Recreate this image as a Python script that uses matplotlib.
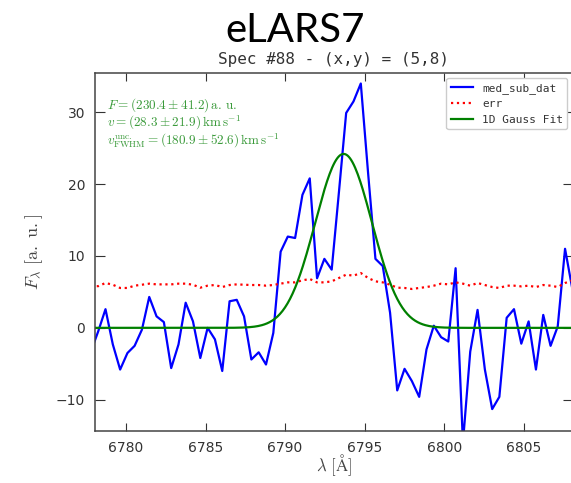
import numpy as np
import matplotlib
matplotlib.use('Agg')
import matplotlib.pyplot as plt

plt.rcParams['mathtext.fontset'] = 'cm'

# wavelength grid of the spectrum [A]
wave = [6777.79, 6778.25, 6778.71, 6779.17, 6779.63, 6780.09, 6780.54, 6781.00,
        6781.46, 6781.92, 6782.38, 6782.84, 6783.30, 6783.75, 6784.21, 6784.67,
        6785.13, 6785.59, 6786.05, 6786.51, 6786.96, 6787.42, 6787.88, 6788.34,
        6788.80, 6789.26, 6789.72, 6790.17, 6790.63, 6791.09, 6791.55, 6792.01,
        6792.47, 6792.93, 6793.39, 6793.84, 6794.30, 6794.76, 6795.22, 6795.68,
        6796.14, 6796.60, 6797.05, 6797.51, 6797.97, 6798.43, 6798.89, 6799.35,
        6799.81, 6800.26, 6800.72, 6801.18, 6801.64, 6802.10, 6802.56, 6803.02,
        6803.47, 6803.93, 6804.39, 6804.85, 6805.31, 6805.77, 6806.23, 6806.69,
        6807.14, 6807.60, 6808.06]

# median subtracted flux
med_sub_dat = [-3.3, -0.5, 2.6, -2.3, -5.8, -3.5, -2.5, -0.25,
               4.3, 1.6, 0.8, -5.6, -2.3, 3.5, 0.9, -4.2,
               0.0, -1.6, -6.0, 3.7, 3.9, 1.6, -4.4, -3.4,
               -5.1, -0.7, 10.6, 12.7, 12.5, 18.5, 20.8, 6.9,
               9.6, 8.1, 19.0, 29.9, 31.5, 34.0, 21.5, 9.6,
               8.6, 2.1, -8.7, -5.7, -7.4, -9.6, -3.0, 0.3,
               -1.3, -1.9, 8.3, -16.0, -3.3, 2.5, -5.8, -11.3,
               -9.6, 1.4, 2.6, -2.2, 0.9, -5.8, 1.8, -2.5,
               0.2, 11.0, 5.4]

# error spectrum
err = [5.8, 5.8, 6.24, 6.0, 5.55, 5.55, 5.87, 6.0,
       6.15, 6.05, 6.05, 6.05, 6.15, 6.15, 6.0, 5.59,
       5.87, 5.96, 5.68, 5.96, 6.05, 6.0, 5.96, 5.96,
       5.87, 5.96, 6.15, 6.33, 6.33, 6.61, 6.80, 6.33,
       6.33, 6.47, 6.94, 7.40, 7.26, 7.63, 6.94, 6.47,
       6.33, 6.0, 5.59, 5.55, 5.41, 5.55, 5.68, 5.87,
       6.15, 6.05, 6.33, 6.15, 5.87, 6.24, 5.96, 5.68,
       5.55, 5.87, 5.87, 5.77, 5.87, 5.68, 5.96, 5.87,
       5.68, 6.24, 6.61]

# 1D gauss fit parameters
gauss_amp = 24.2
gauss_center = 6793.68
gauss_sigma = 1.78

fit_lines = [r'$F = (230.4 \pm 41.2)\,\mathrm{a.\,u.}$',
             r'$v = (28.3 \pm 21.9)\,\mathrm{km\,s^{-1}}$',
             r'$v_\mathrm{FWHM}^\mathrm{unc.} = (180.9 \pm 52.6)\,\mathrm{km\,s^{-1}}$']

W, H = 571, 483
fig = plt.figure(figsize=(W / 100, H / 100), dpi=100)
l, r, t, b = 95, 573, 72.7, 431
ax = fig.add_axes([l / W, 1 - b / H, (r - l) / W, (b - t) / H])

xfit = np.linspace(6777, 6809, 400)
yfit = gauss_amp * np.exp(-0.5 * ((xfit - gauss_center) / gauss_sigma) ** 2)

ax.plot(wave, med_sub_dat, color='blue', lw=1.6, label='med_sub_dat')
ax.plot(wave, err, color='red', ls=':', lw=1.6, label='err')
ax.plot(xfit, yfit, color='green', lw=1.6, label='1D Gauss Fit')

ax.set_xlim(6778.05, 6808.1)
ax.set_ylim(-14.35, 35.5)
ax.set_xticks([6780, 6785, 6790, 6795, 6800, 6805])
ax.set_yticks([-10, 0, 10, 20, 30])

ax.tick_params(direction='in', top=True, right=True, labelsize=10,
               colors='#333333', pad=7)
ax.tick_params(axis='x', length=6)
ax.tick_params(axis='y', length=7)
for s in ax.spines.values():
    s.set_color('#444444')
    s.set_linewidth(1.1)

ax.set_xlabel(r'$\lambda\ [\mathrm{\AA}]$', fontsize=12, color='#444444', labelpad=-2)
ax.set_ylabel(r'$F_\lambda\ [\mathrm{a.\ u.}]$', fontsize=13, color='#444444', labelpad=8)
ax.set_title('Spec #88 - (x,y) = (5,8)', family='DejaVu Sans Mono', fontsize=11.5,
             color='#333333', pad=6.5)

leg = ax.legend(loc='upper right', prop={'family': 'DejaVu Sans Mono', 'size': 8},
                framealpha=1, edgecolor='#cccccc', borderaxespad=0.5)
for txt in leg.get_texts():
    txt.set_color('#333333')

# fit results, one text block
ax.text((107 - l) / (r - l), (b - 96) / (b - t), '\n'.join(fit_lines),
        transform=ax.transAxes, color='#3a9a3a', fontsize=9.5,
        va='top', ha='left', linespacing=1.0)

fig.text(295 / W, 1 - 42 / H, 'eLARS7', family='Lato', fontsize=29,
         ha='center', va='baseline', color='black')

fig.savefig('out.png', dpi=100)
